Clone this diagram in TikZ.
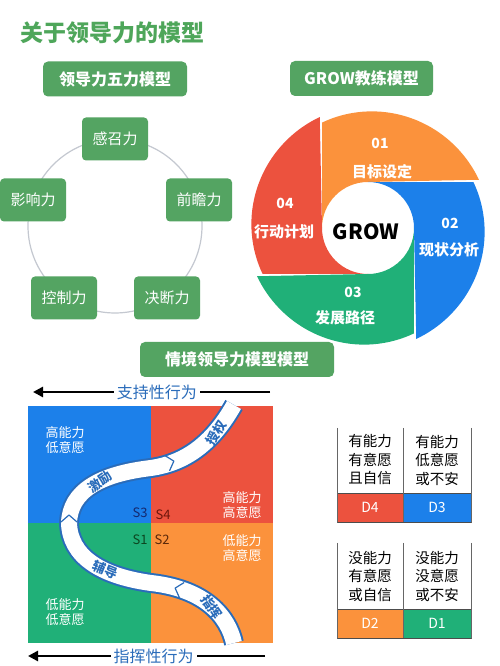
\documentclass[tikz,border=0pt]{standalone}
\usepackage{fontspec}
\setmainfont{Noto Sans CJK SC}
\usetikzlibrary{arrows.meta}

\definecolor{boxgreen}{RGB}{84,164,98}
\definecolor{titlegreen}{RGB}{78,166,90}
\definecolor{ringgray}{RGB}{196,200,208}
\definecolor{qblue}{RGB}{28,128,234}
\definecolor{qred}{RGB}{236,82,62}
\definecolor{qgreen}{RGB}{32,176,120}
\definecolor{qorange}{RGB}{251,146,60}
\definecolor{bandblue}{RGB}{42,108,186}
\definecolor{scol}{RGB}{20,40,110}
\definecolor{sred}{RGB}{110,22,12}
\definecolor{sgreen}{RGB}{12,70,32}
\definecolor{sbrown}{RGB}{90,40,10}

\tikzset{
  headbox/.style={fill=boxgreen, rounded corners=5pt, minimum height=35pt, text=white, font=\fontsize{16}{18}\selectfont\bfseries},
  forcebox/.style={fill=boxgreen, rounded corners=4pt, minimum width=66pt, minimum height=43pt, text=white, font=\fontsize{15}{18}\selectfont},
  petaltext/.style={text=white, font=\fontsize{15}{18}\selectfont\bfseries},
  petalnum/.style={text=white, font=\fontsize{14}{16}\selectfont\bfseries},
  quadtext/.style={text=white, align=center, font=\fontsize{13}{15}\selectfont},
  slabel/.style={font=\fontsize{13}{15}\selectfont},
  bandtext/.style={text=bandblue, inner sep=1pt, font=\fontsize{13}{15}\selectfont\bfseries},
  chevron/.style={bandblue, line width=1.2pt},
  tabletext/.style={align=center, font=\fontsize{14.5}{18.5}\selectfont},
  barlabel/.style={text=white, font=\fontsize{14}{16}\selectfont},
  axisarrow/.style={-{Triangle[length=10pt,width=10pt]}, line width=2.6pt},
  axistext/.style={fill=white, text=bandblue, inner sep=3pt, font=\fontsize{16}{18}\selectfont}
}

% one petal of the GROW wheel: colour, rotation
\newcommand{\growpetal}[2]{%
  \fill[#1, rotate around={#2:(368,438)}] (322,438)
    -- plot[domain=113.5:23.5, samples=40] ({368+(115+6*(113.5-\x)/90)*cos(\x)}, {438+(115+6*(113.5-\x)/90)*sin(\x)})
    -- (368,484) arc[start angle=90, end angle=180, radius=46] -- cycle;}

\begin{document}
\begin{tikzpicture}[x=1pt, y=1pt, line join=round]
\useasboundingbox (0,0) rectangle (500,666);
\fill[white] (0,0) rectangle (500,666);

\node[text=titlegreen, font=\fontsize{23}{26}\selectfont\bfseries] (title) at (112,633) {关于领导力的模型};

% five forces
\node[headbox, minimum width=144pt] (fivehead) at (115,587) {领导力五力模型};
\coordinate (ringc) at (115,440);
\draw[ringgray, line width=1.2pt] (ringc) circle[radius=87];
\node[forcebox] (zhao) at (115,527) {感召力};
\node[forcebox] (ying) at (33,466) {影响力};
\node[forcebox] (zhan) at (199,466) {前瞻力};
\node[forcebox] (kong) at (64,368) {控制力};
\node[forcebox] (jue) at (167,368) {决断力};

% GROW wheel
\node[headbox, minimum width=143pt] (growhead) at (361.5,587.5) {GROW教练模型};
\growpetal{qorange}{0}
\growpetal{qred}{90}
\growpetal{qgreen}{180}
\growpetal{qblue}{270}
\node[petalnum] (gnum) at (380,523) {01};
\node[petaltext] (gtext) at (382,494) {目标设定};
\node[petalnum] (rnum) at (450,443) {02};
\node[petaltext] (rtext) at (449,416) {现状分析};
\node[petalnum] (onum) at (353,374) {03};
\node[petaltext] (otext) at (345,348) {发展路径};
\node[petalnum] (wnum) at (285,463) {04};
\node[petaltext] (wtext) at (284,434) {行动计划};
\node[font=\fontsize{21}{24}\selectfont\bfseries] (growc) at (366,434) {GROW};

% situational leadership
\node[headbox, minimum width=194pt] (situhead) at (237,306.5) {情境领导力模型模型};
\coordinate (supR) at (270,274);
\coordinate (supL) at (33,274);
\draw[axisarrow] (supR) -- node[axistext, pos=0.477] (suptext) {支持性行为} (supL);
\coordinate (dirR) at (265,10);
\coordinate (dirL) at (28,10);
\draw[axisarrow] (dirR) -- node[axistext, pos=0.47] (dirtext) {指挥性行为} (dirL);

\fill[qblue] (28,143) rectangle (151,260);
\fill[qred] (151,143) rectangle (273,260);
\fill[qgreen] (28,23) rectangle (151,143);
\fill[qorange] (151,23) rectangle (273,143);

\node[quadtext] (tl) at (65,226) {高能力\\低意愿};
\node[quadtext] (tr) at (242,161) {高能力\\高意愿};
\node[quadtext] (br) at (242,118) {低能力\\高意愿};
\node[quadtext] (bl) at (65,54) {低能力\\低意愿};

\draw[bandblue, line width=20pt] (234,23) .. controls (228,50) and (205,77) .. (151,83)
  .. controls (100,90) and (70,110) .. (69,143)
  .. controls (70,175) and (100,192) .. (151,198)
  .. controls (185,203) and (212,222) .. (234,261);
\draw[white, line width=16pt] (234,23) .. controls (228,50) and (205,77) .. (151,83)
  .. controls (100,90) and (70,110) .. (69,143)
  .. controls (70,175) and (100,192) .. (151,198)
  .. controls (185,203) and (212,222) .. (234,261);
\draw[chevron, shift={(178,77)}, rotate=163] (-4,-8) -- (3,0) -- (-4,8);
\draw[chevron, shift={(69,148)}, rotate=90] (-4,-8) -- (3,0) -- (-4,8);
\draw[chevron, shift={(171,204)}, rotate=17] (-4,-8) -- (3,0) -- (-4,8);
\node[bandtext, rotate=-55] (zhihui) at (212,59) {指挥};
\node[bandtext, rotate=-22] (fudao) at (105,96) {辅导};
\node[bandtext, rotate=35] (jili) at (100,184) {激励};
\node[bandtext, rotate=58] (shouquan) at (216,233) {授权};

\node[slabel, text=scol] (sthree) at (140,153) {S3};
\node[slabel, text=sred] (sfour) at (163,151) {S4};
\node[slabel, text=sgreen] (sone) at (140,126) {S1};
\node[slabel, text=sbrown] (stwo) at (162,126) {S2};

% readiness tables
\fill[qred] (337,144) rectangle (403,173);
\fill[qblue] (403,144) rectangle (471,173);
\draw[black!70, line width=0.8pt] (337,144) rectangle (471,173);
\draw[black!60, line width=0.8pt] (337,238) -- (337,144) (403,238) -- (403,144) (471,238) -- (471,144);
\node[tabletext] (dfourtxt) at (370,206) {有能力\\有意愿\\且自信};
\node[tabletext] (dthreetxt) at (437,206) {有能力\\低意愿\\或不安};
\node[barlabel] (dfour) at (370,158.5) {D4};
\node[barlabel] (dthree) at (437,158.5) {D3};

\fill[qorange] (337,28) rectangle (403,57);
\fill[qgreen] (403,28) rectangle (471,57);
\draw[black!70, line width=0.8pt] (337,28) rectangle (471,57);
\draw[black!60, line width=0.8pt] (337,123) -- (337,28) (403,123) -- (403,28) (471,123) -- (471,28);
\node[tabletext] (dtwotxt) at (370,90) {没能力\\有意愿\\或自信};
\node[tabletext] (donetxt) at (437,90) {没能力\\没意愿\\或不安};
\node[barlabel] (dtwo) at (370,42.5) {D2};
\node[barlabel] (done) at (437,42.5) {D1};

\end{tikzpicture}
\end{document}
